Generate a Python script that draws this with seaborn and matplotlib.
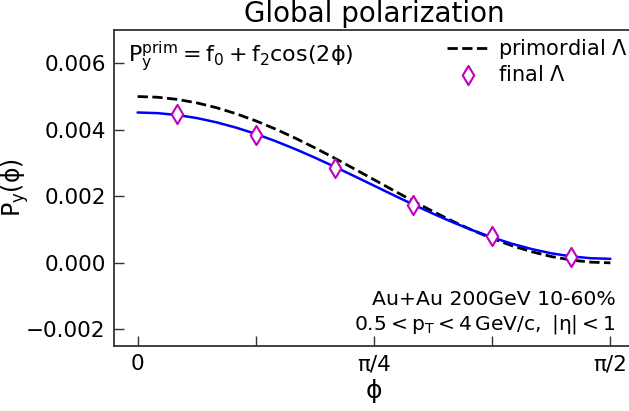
import numpy as np
import pandas as pd
import matplotlib
matplotlib.use("Agg")
import matplotlib.pyplot as plt
import seaborn as sns

# ---- data ----
PI = np.pi
# curve sample positions: k*pi/48, k = 0..24
curve_k = list(range(25))
primordial_vals = [5.000e-3, 4.979e-3, 4.915e-3, 4.810e-3, 4.665e-3, 4.483e-3, 4.268e-3,
                   4.022e-3, 3.750e-3, 3.457e-3, 3.147e-3, 2.826e-3, 2.500e-3,
                   2.174e-3, 1.853e-3, 1.543e-3, 1.250e-3, 0.978e-3, 0.732e-3,
                   0.517e-3, 0.335e-3, 0.190e-3, 0.085e-3, 0.021e-3, 0.000e-3]
fit_vals = [4.520e-3, 4.501e-3, 4.445e-3, 4.353e-3, 4.225e-3, 4.065e-3, 3.876e-3,
            3.659e-3, 3.420e-3, 3.162e-3, 2.889e-3, 2.607e-3, 2.320e-3,
            2.033e-3, 1.751e-3, 1.478e-3, 1.220e-3, 0.981e-3, 0.764e-3,
            0.575e-3, 0.415e-3, 0.287e-3, 0.195e-3, 0.139e-3, 0.120e-3]
# final Lambda points at (2k+1)*pi/24
final_k = [1, 3, 5, 7, 9, 11]
final_vals = [4.47e-3, 3.85e-3, 2.84e-3, 1.73e-3, 0.80e-3, 0.18e-3]

xtick_vals = [0, PI / 8, PI / 4, 3 * PI / 8, PI / 2]
xtick_labels = ["0", "", "π/4", "", "π/2"]
ytick_vals = [-0.002, 0.0, 0.002, 0.004, 0.006]
ytick_labels = ["\u22120.002", "0.000", "0.002", "0.004", "0.006"]

curve_df = pd.DataFrame({
    "phi": [k * PI / 48 for k in curve_k],
    "primordial": primordial_vals,
    "fit": fit_vals,
})
final_df = pd.DataFrame({
    "phi": [k * PI / 24 for k in final_k],
    "P": final_vals,
})

# ---- style ----
sns.set_style("ticks")
plt.rcParams["font.family"] = ["DejaVu Sans"]
plt.rcParams["mathtext.default"] = "regular"
plt.rcParams["text.color"] = "black"
plt.rcParams["axes.labelcolor"] = "black"
plt.rcParams["xtick.labelcolor"] = "black"
plt.rcParams["ytick.labelcolor"] = "black"

fig = plt.figure(figsize=(6.29, 4.11), dpi=100)
ax = fig.add_axes([0.18124, 0.15815, 0.8267, 0.76886])

sns.lineplot(data=curve_df, x="phi", y="primordial", ax=ax, color="black",
             linestyle="--", linewidth=2.0, label=r"primordial $\Lambda$")
sns.lineplot(data=curve_df, x="phi", y="fit", ax=ax, color="#0000ff",
             linewidth=1.8, label="_nolegend_")
sns.scatterplot(data=final_df, x="phi", y="P", ax=ax, marker="d", s=95,
                facecolor="white", edgecolor="#bf00bf", linewidth=1.5,
                zorder=5, label=r"final $\Lambda$")

ax.set_xlim(-PI / 40, PI / 2 + PI / 40)
ax.set_ylim(-0.0025, 0.007)
ax.set_xticks(xtick_vals)
ax.set_xticklabels(xtick_labels)
ax.set_yticks(ytick_vals)
ax.set_yticklabels(ytick_labels)
ax.tick_params(direction="in", length=7, width=1.0, labelsize=15.5,
               color="#333333", labelcolor="black", pad=6)
for side in ["left", "bottom", "top"]:
    ax.spines[side].set_color("#333333")
    ax.spines[side].set_linewidth(1.3)
ax.spines["right"].set_visible(False)

ax.set_xlabel(r"$\phi$", fontsize=18, labelpad=2, color="black")
ax.set_ylabel(r"$P_y(\phi)$", fontsize=17, color="black")
ax.yaxis.set_label_coords(-0.16, 0.5)
ax.set_title("Global polarization", fontsize=20, pad=6, color="black")

ax.text(0.027, 0.915, r"$P_y^{prim} = f_0 + f_2 cos(2\phi)$",
        transform=ax.transAxes, fontsize=16, ha="left", va="center",
        color="black")
ax.text(0.965, 0.130, "Au+Au 200GeV 10-60%", transform=ax.transAxes,
        fontsize=14.7, ha="right", va="baseline", color="black")
ax.text(0.965, 0.051, r"$0.5 < p_T < 4\,GeV/c,\ |\eta| < 1$",
        transform=ax.transAxes, fontsize=14.6, ha="right", va="baseline",
        color="black")

leg = ax.legend(loc="upper right", bbox_to_anchor=(1.0115, 1.016), frameon=False,
                fontsize=15, handlelength=2.0, handletextpad=0.45,
                labelspacing=0.15, borderaxespad=0.2)
for t in leg.get_texts():
    t.set_color("black")

fig.savefig("out.png", dpi=100)
